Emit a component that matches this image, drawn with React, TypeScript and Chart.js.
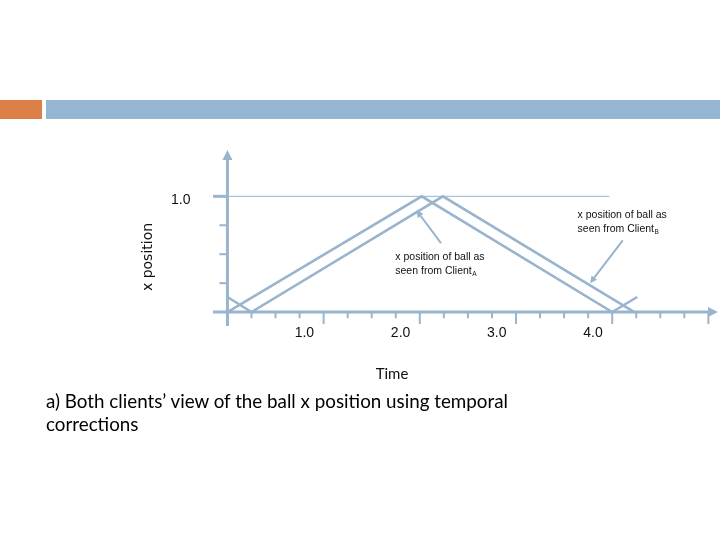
import React, { useEffect, useRef } from "react";
import { Chart, registerables } from "chart.js";

Chart.register(...registerables);

// ---- data ----
const clientATime = [0, 0.25, 2.24, 4.23];
const clientAPos = [0.13, 0, 1, 0];
const clientBTime = [0, 2.02, 4.0, 4.26];
const clientBPos = [0, 1, 0, 0.13];
const refLineTime = [0, 3.97];
const refLinePos = [1, 1];

const xTickValues = [1, 2, 3, 4];
const xTickLabels = ["1.0", "2.0", "3.0", "4.0"];
const xMinorStep = 0.25;
const xMinorMax = 5.0;
const yTickValues = [1];
const yTickLabels = ["1.0"];
const yMinorStep = 0.25;

const annotationTexts = [
  ["x position of ball as", "seen from Client", "A"],
  ["x position of ball as", "seen from Client", "B"],
];
const annotationTextAnchor = [
  [1.745, 0.475],
  [3.64, 0.838],
];
const annotationArrowFrom = [
  [2.22, 0.595],
  [4.11, 0.62],
];
const annotationArrowTo = [
  [1.965, 0.88],
  [3.77, 0.25],
];

const COLOR = "rgb(152,180,206)";

function toPts(xs: number[], ys: number[]) {
  return xs.map((x, i) => ({ x, y: ys[i] }));
}

function arrowHead(ctx: CanvasRenderingContext2D, fx: number, fy: number, tx: number, ty: number, len: number, half: number) {
  const a = Math.atan2(ty - fy, tx - fx);
  ctx.beginPath();
  ctx.moveTo(tx, ty);
  ctx.lineTo(tx - len * Math.cos(a) + half * Math.sin(a), ty - len * Math.sin(a) - half * Math.cos(a));
  ctx.lineTo(tx - len * Math.cos(a) - half * Math.sin(a), ty - len * Math.sin(a) + half * Math.cos(a));
  ctx.closePath();
  ctx.fill();
}

const axesPlugin = {
  id: "axesPlugin",
  beforeDatasetsDraw(chart: any) {
    const ctx: CanvasRenderingContext2D = chart.ctx;
    const xs = chart.scales.x;
    const ys = chart.scales.y;
    const x0 = xs.getPixelForValue(0);
    const y0 = ys.getPixelForValue(0);
    const area = chart.chartArea;
    ctx.save();
    ctx.strokeStyle = COLOR;
    ctx.fillStyle = COLOR;
    // x ticks
    ctx.lineWidth = 2;
    for (let v = xMinorStep; v <= xMinorMax + 1e-6; v += xMinorStep) {
      const px = xs.getPixelForValue(v);
      const major = Math.abs(v - Math.round(v)) < 1e-6;
      ctx.beginPath();
      ctx.moveTo(px, y0);
      ctx.lineTo(px, y0 + (major ? 12 : 6));
      ctx.stroke();
    }
    // y ticks
    for (let v = yMinorStep; v < 1 - 1e-6; v += yMinorStep) {
      const py = ys.getPixelForValue(v);
      ctx.beginPath();
      ctx.moveTo(x0 - 8, py);
      ctx.lineTo(x0, py);
      ctx.stroke();
    }
    ctx.lineWidth = 3;
    yTickValues.forEach((v) => {
      const py = ys.getPixelForValue(v);
      ctx.beginPath();
      ctx.moveTo(area.left, py);
      ctx.lineTo(x0, py);
      ctx.stroke();
    });
    // axes
    ctx.lineWidth = 3;
    ctx.beginPath();
    ctx.moveTo(area.left, y0);
    ctx.lineTo(area.right - 6, y0);
    ctx.stroke();
    ctx.beginPath();
    ctx.moveTo(x0, area.bottom);
    ctx.lineTo(x0, area.top + 6);
    ctx.stroke();
    arrowHead(ctx, area.left, y0, area.right, y0, 10, 5);
    arrowHead(ctx, x0, area.bottom, x0, area.top, 10, 5);

    // tick labels
    ctx.fillStyle = "#111";
    ctx.font = "14px 'Liberation Sans'";
    ctx.textAlign = "center";
    ctx.textBaseline = "middle";
    xTickValues.forEach((v, i) => {
      ctx.fillText(xTickLabels[i], xs.getPixelForValue(v - 0.2), y0 + 21);
    });
    ctx.textAlign = "right";
    yTickValues.forEach((v, i) => {
      ctx.fillText(yTickLabels[i], x0 - 37, ys.getPixelForValue(v) + 4);
    });
    // axis titles
    ctx.font = "15px Lato";
    ctx.textAlign = "center";
    ctx.fillText("Time", 392, 374);
    ctx.save();
    ctx.translate(148, 257);
    ctx.rotate(-Math.PI / 2);
    ctx.font = "14px 'DejaVu Sans'";
    ctx.fillText("x position", 0, 0);
    ctx.restore();
    ctx.restore();
  },
  afterDatasetsDraw(chart: any) {
    const ctx: CanvasRenderingContext2D = chart.ctx;
    const xs = chart.scales.x;
    const ys = chart.scales.y;
    ctx.save();
    annotationTexts.forEach((t, i) => {
      const [ax, ay] = annotationTextAnchor[i];
      const px = xs.getPixelForValue(ax);
      const py = ys.getPixelForValue(ay);
      ctx.fillStyle = "#111";
      ctx.textAlign = "left";
      ctx.textBaseline = "middle";
      ctx.font = "10.5px 'Liberation Sans'";
      ctx.fillText(t[0], px, py);
      ctx.fillText(t[1], px, py + 14);
      const w = ctx.measureText(t[1]).width;
      ctx.font = "6.5px 'Liberation Sans'";
      ctx.fillText(t[2], px + w + 0.5, py + 17);

      const fx = xs.getPixelForValue(annotationArrowFrom[i][0]);
      const fy = ys.getPixelForValue(annotationArrowFrom[i][1]);
      const tx = xs.getPixelForValue(annotationArrowTo[i][0]);
      const ty = ys.getPixelForValue(annotationArrowTo[i][1]);
      ctx.strokeStyle = COLOR;
      ctx.fillStyle = COLOR;
      ctx.lineWidth = 2;
      const a = Math.atan2(ty - fy, tx - fx);
      ctx.beginPath();
      ctx.moveTo(fx, fy);
      ctx.lineTo(tx - 6 * Math.cos(a), ty - 6 * Math.sin(a));
      ctx.stroke();
      arrowHead(ctx, fx, fy, tx, ty, 7, 3.5);
    });
    ctx.restore();
  },
};

export default function App() {
  const ref = useRef<HTMLCanvasElement | null>(null);
  useEffect(() => {
    if (!ref.current) return;
    const chart = new Chart(ref.current, {
      type: "scatter",
      data: {
        datasets: [
          {
            label: "ref",
            data: toPts(refLineTime, refLinePos),
            showLine: true,
            borderColor: COLOR,
            borderWidth: 1,
            pointRadius: 0,
          },
          {
            label: "Client A",
            data: toPts(clientATime, clientAPos),
            showLine: true,
            borderColor: COLOR,
            borderWidth: 2.5,
            pointRadius: 0,
          },
          {
            label: "Client B",
            data: toPts(clientBTime, clientBPos),
            showLine: true,
            borderColor: COLOR,
            borderWidth: 2.5,
            pointRadius: 0,
          },
        ],
      },
      options: {
        animation: false,
        responsive: false,
        devicePixelRatio: 1,
        layout: { padding: { left: 213, right: 2, top: 150, bottom: 214 } },
        plugins: { legend: { display: false }, tooltip: { enabled: false } },
        scales: {
          x: { type: "linear", display: false, min: -0.15, max: 5.1 },
          y: { type: "linear", display: false, min: -0.12, max: 1.4 },
        },
      },
      plugins: [axesPlugin],
    });
    return () => chart.destroy();
  }, []);

  return (
    <div style={{ position: "fixed", left: 0, top: 0, width: 720, height: 540, background: "#fff" }}>
      <div style={{ position: "absolute", left: 0, top: 100, width: 42, height: 19, background: "#DD8047" }} />
      <div style={{ position: "absolute", left: 46, top: 100, width: 674, height: 19, background: "#94B6D2" }} />
      <canvas ref={ref} width={720} height={540} style={{ position: "absolute", left: 0, top: 0 }} />
      <div
        style={{
          position: "absolute",
          left: 46,
          top: 389,
          width: 520,
          fontFamily: "Lato",
          fontSize: 18.8,
          lineHeight: "23px",
          color: "#000",
        }}
      >
        a) Both clients’ view of the ball x position using temporal corrections
      </div>
    </div>
  );
}
